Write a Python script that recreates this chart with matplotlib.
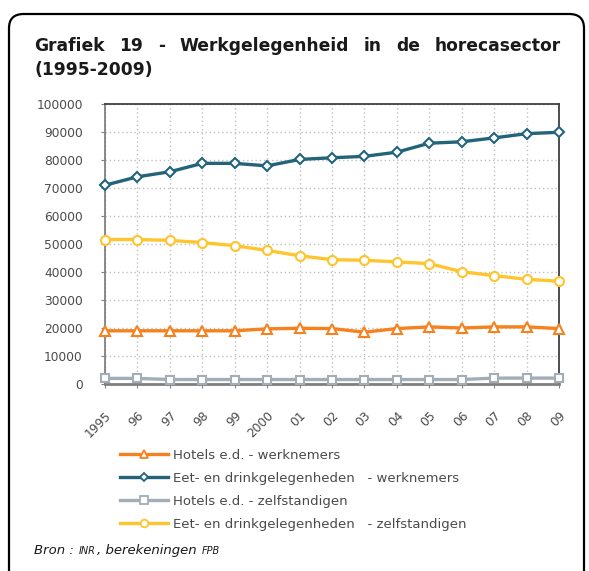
import matplotlib
matplotlib.use("Agg")
import matplotlib.pyplot as plt
from matplotlib.patches import FancyBboxPatch
from matplotlib.lines import Line2D

plt.rcParams['font.family'] = ['DejaVu Sans']

# Data
years = list(range(1995, 2010))
year_labels = ["1995", "96", "97", "98", "99", "2000", "01", "02", "03", "04",
               "05", "06", "07", "08", "09"]

hotels_werknemers = [19000, 19000, 19000, 19000, 19000, 19700, 19900, 19800,
                     18500, 19800, 20400, 20000, 20400, 20400, 19800]
eet_werknemers = [71000, 74000, 75800, 78800, 78800, 77900, 80200, 80800,
                  81300, 82800, 86000, 86500, 87900, 89400, 89900]
hotels_zelfst = [2000, 2000, 1600, 1600, 1600, 1600, 1600, 1600,
                 1600, 1600, 1600, 1600, 2100, 2100, 2100]
eet_zelfst = [51600, 51600, 51300, 50500, 49400, 47700, 45800, 44400,
              44200, 43600, 43000, 40100, 38700, 37400, 36700]

series_labels = ["Hotels e.d. - werknemers",
                 "Eet- en drinkgelegenheden   - werknemers",
                 "Hotels e.d. - zelfstandigen",
                 "Eet- en drinkgelegenheden   - zelfstandigen"]

c_orange = "#f5821f"
c_teal = "#24647a"
c_gray = "#a3adb8"
c_yellow = "#fec52e"
c_text = "#4a4a4a"

W, H = 589, 571
fig = plt.figure(figsize=(W / 100, H / 100), dpi=100)

# rounded frame
frame = FancyBboxPatch((9 / W, -20 / H), (575 / W), (H - 14 + 20) / H,
                       boxstyle="round,pad=0,rounding_size=0.025",
                       transform=fig.transFigure, fill=False,
                       edgecolor="black", linewidth=1.6, clip_on=False)
fig.patches.append(frame)

# title, first line justified between the margins
title_words = ["Grafiek", "19", "-", "Werkgelegenheid", "in", "de", "horecasector"]
fig.canvas.draw()
renderer = fig.canvas.get_renderer()
word_objs = []
for w in title_words:
    t = fig.text(0, 1 - 46 / H, w, fontsize=12.3, fontweight="bold",
                 color="#1a1a1a", va="center")
    word_objs.append(t)
widths = [t.get_window_extent(renderer).width for t in word_objs]
left, right = 34, 561
gap = (right - left - sum(widths)) / (len(widths) - 1)
x = left
for t, wd in zip(word_objs, widths):
    t.set_x(x / W)
    x += wd + gap
fig.text(34 / W, 1 - 70 / H, "(1995-2009)", fontsize=12.3, fontweight="bold",
         color="#1a1a1a", va="center")

ax = fig.add_axes([105 / W, 1 - 384 / H, (559 - 105) / W, (384 - 104) / H])

lw = 2.4
ax.plot(years, hotels_werknemers, color=c_orange, lw=lw, marker="^", ms=7.5,
        mfc="white", mec=c_orange, mew=1.5, zorder=3, clip_on=False)
ax.plot(years, eet_werknemers, color=c_teal, lw=lw, marker="D", ms=5.5,
        mfc="white", mec=c_teal, mew=1.5, zorder=3, clip_on=False)
ax.plot(years, hotels_zelfst, color=c_gray, lw=lw, marker="s", ms=6,
        mfc="white", mec=c_gray, mew=1.5, zorder=3, clip_on=False)
ax.plot(years, eet_zelfst, color=c_yellow, lw=lw, marker="o", ms=6.5,
        mfc="white", mec=c_yellow, mew=1.5, zorder=3, clip_on=False)

ax.set_xlim(1995, 2009)
ax.set_ylim(0, 100000)
ax.set_yticks(range(0, 100001, 10000))
ax.set_yticklabels([str(v) for v in range(0, 100001, 10000)], color=c_text,
                   fontsize=8.8)
ax.set_xticks(years)
ax.set_xticklabels(year_labels, rotation=45, ha="right", va="top",
                   rotation_mode="anchor", color=c_text, fontsize=8.8)
ax.tick_params(axis="x", length=3, color="#808080", pad=15)
ax.tick_params(axis="y", length=3, color="#808080", pad=13)
ax.grid(True, color="#c0c0c0", linestyle=(0, (1, 2)), lw=1)
ax.set_axisbelow(True)
for s in ["top", "right"]:
    ax.spines[s].set_color("#404040")
    ax.spines[s].set_linewidth(1.3)
ax.spines["left"].set_color("#808080")
ax.spines["left"].set_linewidth(1.3)
ax.spines["bottom"].set_color("#808080")
ax.spines["bottom"].set_linewidth(2)

handles = [
    Line2D([], [], color=c_orange, lw=lw, marker="^", ms=5.5, mfc="white", mec=c_orange, mew=1.3),
    Line2D([], [], color=c_teal, lw=lw, marker="D", ms=4.5, mfc="white", mec=c_teal, mew=1.3),
    Line2D([], [], color=c_gray, lw=lw, marker="s", ms=5.5, mfc="white", mec=c_gray, mew=1.3),
    Line2D([], [], color=c_yellow, lw=lw, marker="o", ms=5.5, mfc="white", mec=c_yellow, mew=1.3),
]
leg = fig.legend(handles, series_labels, loc="upper left",
                 bbox_to_anchor=(120 / W, 1 - 449 / H), frameon=False,
                 fontsize=9.5, handlelength=3.6, handletextpad=0.4,
                 labelspacing=0.75, borderaxespad=0, borderpad=0)
for t in leg.get_texts():
    t.set_color(c_text)

# source line, pieces placed one after the other
pieces = [("Bron : ", 9.5), ("INR", 7), (", berekeningen ", 9.5), ("FPB", 7)]
x = 34
for txt, fs in pieces:
    t = fig.text(x / W, 1 - 554 / H, txt, fontsize=fs, style="italic",
                 color="#1a1a1a", va="baseline")
    x += t.get_window_extent(renderer).width + 1

fig.savefig("out.png", dpi=100)
